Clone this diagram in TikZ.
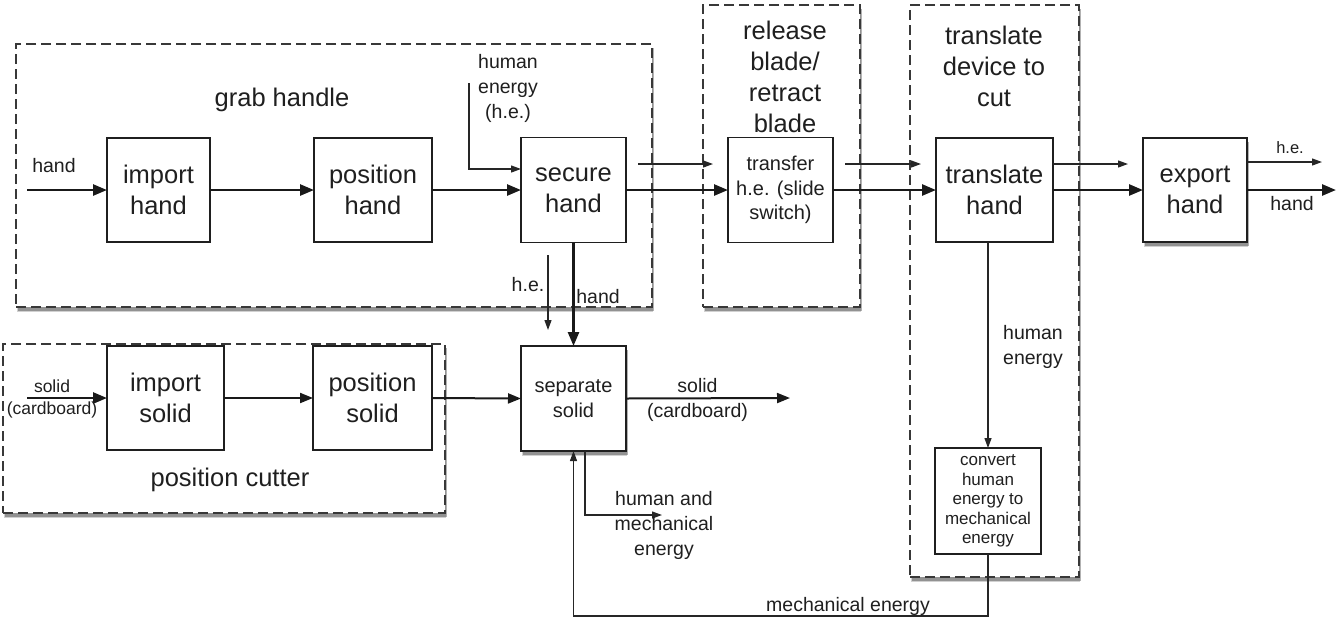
\documentclass[tikz,border=0pt]{standalone}
\usepackage{fontspec}
\setmainfont{Liberation Sans}
\usetikzlibrary{arrows.meta,shadows,calc}

\begin{document}
\begin{tikzpicture}[x=1pt,y=-1pt,
  every node/.style={text=black!88},
  softshadow/.style={
    general shadow={shadow xshift=1pt, shadow yshift=-5pt, opacity=0.18, fill=black},
    general shadow={shadow xshift=1.5pt, shadow yshift=-3.5pt, opacity=0.3, fill=black}},
  group/.style={draw=black!78, line width=2pt, dash pattern=on 10pt off 5pt,
    fill=white, inner sep=0pt, outer sep=0pt, softshadow},
  fn/.style={draw=black!88, line width=1.4pt, fill=white, inner sep=0pt, outer sep=0pt,
    align=center, font=\fontsize{25.5}{31}\selectfont},
  title/.style={align=center, font=\fontsize{25.5}{31}\selectfont},
  lbl/.style={align=center, font=\fontsize{19.5}{25}\selectfont, inner sep=0pt},
  flowthick/.style={draw=black!90, line width=2.6pt, -{Triangle[length=14pt,width=11pt]}},
  flowmid/.style={draw=black!90, line width=2pt, -{Triangle[length=13pt,width=10pt]}},
  flowthin/.style={draw=black!85, line width=1.2pt, -{Triangle[length=10pt,width=7pt]}}
]
\useasboundingbox (0,0) rectangle (1336,622);

% function groups (dashed outlines)
\node[group, minimum width=636, minimum height=263] (grab) at (334,175.5) {};
\node[group, minimum width=157, minimum height=302] (release) at (781.5,156) {};
\node[group, minimum width=169, minimum height=572] (transl) at (994.5,291) {};
\node[group, minimum width=442, minimum height=169] (cutter) at (224,428.5) {};

\node[title] (tgrab) at (282,100) {grab handle};
\node[title] (trelease) at (785,77) {release\\blade/\\retract\\blade};
\node[title] (ttransl) at (994,66) {translate\\device to\\cut};
\node[title] (tcutter) at (230,480) {position cutter};

% function blocks
\node[fn, minimum width=103, minimum height=104] (imph) at (158.5,190) {import\\hand};
\node[fn, minimum width=118, minimum height=104] (posh) at (373,190) {position\\hand};
\node[fn, minimum width=105, minimum height=105] (sech) at (573.5,190) {secure\\hand};
\node[fn, minimum width=105, minimum height=105, font=\fontsize{20}{24.5}\selectfont]
  (trans) at (780.5,190) {transfer\\h.e. (slide\\switch)};
\node[fn, minimum width=117, minimum height=104] (transh) at (994.5,190) {translate\\hand};
\node[fn, softshadow, minimum width=104, minimum height=104] (exph) at (1195,190) {export\\hand};
\node[fn, minimum width=117, minimum height=104] (imps) at (165.5,398) {import\\solid};
\node[fn, minimum width=119, minimum height=104] (poss) at (372.5,398) {position\\solid};
\node[fn, softshadow, minimum width=105, minimum height=105, font=\fontsize{20}{25}\selectfont]
  (sep) at (573.5,398.5) {separate\\solid};
\node[fn, minimum width=106, minimum height=106, font=\fontsize{17}{19.6}\selectfont]
  (conv) at (988,501) {convert\\human\\energy to\\mechanical\\energy};

% free ends of flows
\coordinate (handin) at (27,190);
\coordinate (handout) at (1336,190);
\coordinate (solidin) at (27,398);
\coordinate (solidout) at (790,398);
\coordinate (heA1) at (638,164);
\coordinate (heA2) at (713,164);
\coordinate (heB1) at (845,164);
\coordinate (heB2) at (921,164);
\coordinate (heC2) at (1128,164);
\coordinate (heD2) at (1322,162);
\coordinate (heTop) at (469,83);
\coordinate (heDn1) at (548,255);
\coordinate (heDn2) at (548,330);
\coordinate (hmeEnd) at (662,515);

% hand flow
\draw[flowthick] (handin) -- (imph.west);
\draw[flowthick] (imph.east) -- (posh.west);
\draw[flowthick] (posh.east) -- (sech.west);
\draw[flowthick] (sech.east) -- (trans.west);
\draw[flowthick] (trans.east) -- (transh.west);
\draw[flowthick] (transh.east) -- (exph.west);
\draw[flowthick] (exph.east) -- (handout);
\draw[flowthick] (sech.south) -- (sep.north);

% human energy flow
\draw[flowthin] (heTop) |- ($(sech.west)+(0,-21)$);
\draw[flowthin] (heA1) -- (heA2);
\draw[flowthin] (heB1) -- (heB2);
\draw[flowthin] ($(transh.east)+(0,-26)$) -- (heC2);
\draw[flowthin] ($(exph.east)+(0,-28)$) -- (heD2);
\draw[flowthin] (heDn1) -- (heDn2);
\draw[flowthin] (conv.north |- transh.south) -- (conv.north);
\draw[flowthin] ($(sep.south)+(11.5,0)$) |- (hmeEnd);
\draw[flowthin] (conv.south) -- ++(0,62) -| (sep.south);

% solid flow
\draw[flowthick] (solidin) -- (imps.west);
\draw[flowmid] (imps.east) -- (poss.west);
\draw[flowmid] (poss.east) -- (sep.west);
\draw[flowmid] (sep.east) -- (solidout);

% flow labels
\node[lbl] (lhandin) at (54,166) {hand};
\node[lbl] (lhe) at (508,88) {human\\energy\\(h.e.)};
\node[lbl] (lhedn) at (528,285) {h.e.};
\node[lbl] (lhanddn) at (598,297) {hand};
\node[lbl, font=\fontsize{16.5}{20}\selectfont] (lheout) at (1290,148) {h.e.};
\node[lbl] (lhandout) at (1292,204) {hand};
\node[lbl, font=\fontsize{17.5}{22}\selectfont] (lsolidin) at (52,399) {solid\\(cardboard)};
\node[lbl] (lsolidout) at (697.5,400) {solid\\(cardboard)};
\node[lbl] (lhme) at (664,525) {human and\\mechanical\\energy};
\node[lbl] (lhume) at (1033,347) {human\\energy};
\node[lbl] (lmech) at (848,606) {mechanical energy};
\end{tikzpicture}
\end{document}
